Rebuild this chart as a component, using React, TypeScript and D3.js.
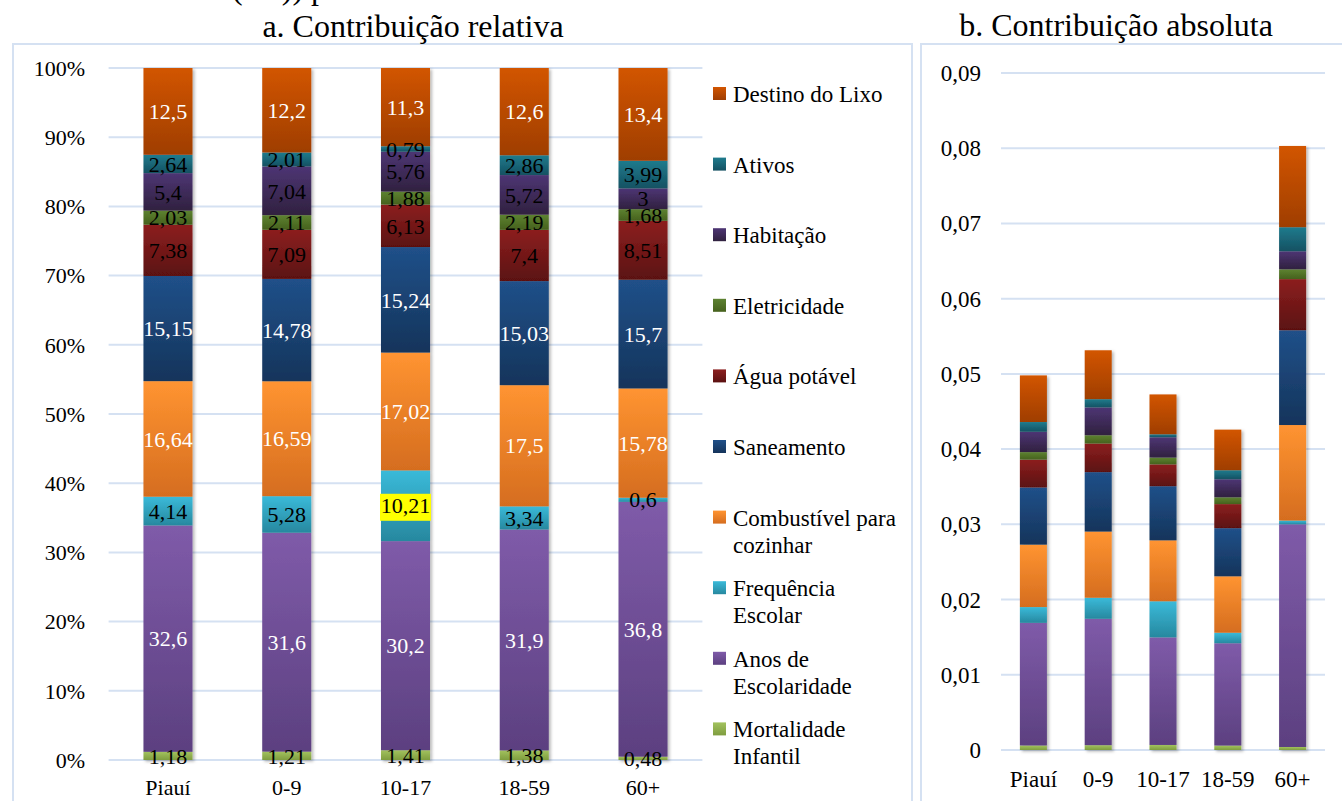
import React from "react";
import * as d3 from "d3";

// categories and series (bottom to top of each bar)
const categories = ["Piauí", "0-9", "10-17", "18-59", "60+"];
const seriesNames = [
  "Mortalidade Infantil",
  "Anos de Escolaridade",
  "Frequência Escolar",
  "Combustível para cozinhar",
  "Saneamento",
  "Água potável",
  "Eletricidade",
  "Habitação",
  "Ativos",
  "Destino do Lixo",
];

// a. relative contribution (%)
const mortalidadeRel = [1.18, 1.21, 1.41, 1.38, 0.48];
const anosRel = [32.6, 31.6, 30.2, 31.9, 36.8];
const frequenciaRel = [4.14, 5.28, 10.21, 3.34, 0.6];
const combustivelRel = [16.64, 16.59, 17.02, 17.5, 15.78];
const saneamentoRel = [15.15, 14.78, 15.24, 15.03, 15.7];
const aguaRel = [7.38, 7.09, 6.13, 7.4, 8.51];
const eletricidadeRel = [2.03, 2.11, 1.88, 2.19, 1.68];
const habitacaoRel = [5.4, 7.04, 5.76, 5.72, 3];
const ativosRel = [2.64, 2.01, 0.79, 2.86, 3.99];
const lixoRel = [12.5, 12.2, 11.3, 12.6, 13.4];

// b. absolute contribution
const mortalidadeAbs = [0.0006, 0.00064, 0.00067, 0.00059, 0.0004];
const anosAbs = [0.0163, 0.0168, 0.0143, 0.0136, 0.0296];
const frequenciaAbs = [0.0021, 0.0028, 0.0048, 0.0014, 0.0005];
const combustivelAbs = [0.0083, 0.0088, 0.0081, 0.0075, 0.0127];
const saneamentoAbs = [0.0076, 0.0079, 0.0072, 0.0064, 0.0126];
const aguaAbs = [0.0037, 0.0038, 0.0029, 0.0032, 0.0068];
const eletricidadeAbs = [0.001, 0.0011, 0.0009, 0.0009, 0.0013];
const habitacaoAbs = [0.0027, 0.0037, 0.0027, 0.0024, 0.0024];
const ativosAbs = [0.0013, 0.0011, 0.0004, 0.0012, 0.0032];
const lixoAbs = [0.0062, 0.0065, 0.0053, 0.0054, 0.0108];

const relSeries = [mortalidadeRel, anosRel, frequenciaRel, combustivelRel, saneamentoRel,
  aguaRel, eletricidadeRel, habitacaoRel, ativosRel, lixoRel];
const absSeries = [mortalidadeAbs, anosAbs, frequenciaAbs, combustivelAbs, saneamentoAbs,
  aguaAbs, eletricidadeAbs, habitacaoAbs, ativosAbs, lixoAbs];

const relTicks = [0, 0.1, 0.2, 0.3, 0.4, 0.5, 0.6, 0.7, 0.8, 0.9, 1];
const absTicks = [0, 0.01, 0.02, 0.03, 0.04, 0.05, 0.06, 0.07, 0.08, 0.09];

const legendLines = [
  ["Destino do Lixo"],
  ["Ativos"],
  ["Habitação"],
  ["Eletricidade"],
  ["Água potável"],
  ["Saneamento"],
  ["Combustível para", "cozinhar"],
  ["Frequência", "Escolar"],
  ["Anos de", "Escolaridade"],
  ["Mortalidade", "Infantil"],
];

// gradient top -> bottom per series
const colors = [
  ["#a2c25e", "#7f9d3f"],
  ["#7f5ba9", "#5c4080"],
  ["#3abad9", "#27889f"],
  ["#ff9431", "#d56d1f"],
  ["#205089", "#15345b"],
  ["#8c1f1f", "#5b1111"],
  ["#5d8231", "#46611d"],
  ["#4d3574", "#30213f"],
  ["#1f7b8d", "#155162"],
  ["#d25500", "#9f3e03"],
];
const whiteLabel = [false, true, false, true, true, false, false, false, false, true];
const highlighted = [{ series: "Frequência Escolar", category: "10-17" }];

const font = "Liberation Serif, Tinos, Times New Roman, DejaVu Serif, serif";
const gridColor = "#d5e1f2";

const fmt = (v) => String(v).replace(".", ",");

export default function App() {
  const relRows = categories.map((c, i) => {
    const r = { category: c };
    seriesNames.forEach((s, k) => (r[s] = relSeries[k][i]));
    return r;
  });
  const absRows = categories.map((c, i) => {
    const r = { category: c };
    seriesNames.forEach((s, k) => (r[s] = absSeries[k][i]));
    return r;
  });

  const relStack = d3.stack().keys(seriesNames).offset(d3.stackOffsetExpand)(relRows);
  const absStack = d3.stack().keys(seriesNames)(absRows);

  const xL = d3.scaleBand().domain(categories).range([108.6, 702.4]).paddingInner(0.587).paddingOuter(0.2935);
  const yL = d3.scaleLinear().domain([0, 1]).range([760, 68]);
  const xR = d3.scaleBand().domain(categories).range([1001, 1325]).paddingInner(0.583).paddingOuter(0.2915);
  const yR = d3.scaleLinear().domain([0, 0.09]).range([750, 73]);

  const pct = d3.format(".0%");
  const ts = { fontFamily: font };

  return (
    <svg width={1342} height={801} style={{ position: "absolute", left: 0, top: 0, background: "#fff", fontFamily: font }}>
      <defs>
        {colors.map((c, k) => (
          <linearGradient key={k} id={"g" + k} x1="0" y1="0" x2="0" y2="1">
            <stop offset="0" stopColor={c[0]} />
            <stop offset="1" stopColor={c[1]} />
          </linearGradient>
        ))}
        <filter id="shadow" x="-20%" y="-5%" width="150%" height="115%">
          <feDropShadow dx="2" dy="1.5" stdDeviation="1.8" floodColor="#000" floodOpacity="0.28" />
        </filter>
      </defs>

      {/* clipped text above the chart */}
      <text x={232} y={-1} fontSize={32} style={ts}>(H0)) p</text>

      {/* frames */}
      <rect x={13} y={44} width={899} height={800} fill="none" stroke={gridColor} strokeWidth={2} />
      <rect x={921} y={44} width={440} height={800} fill="none" stroke={gridColor} strokeWidth={2} />

      {/* titles */}
      <text x={413} y={37} textAnchor="middle" fontSize={32} style={ts}>a. Contribuição relativa</text>
      <text x={1116} y={36} textAnchor="middle" fontSize={32} style={ts}>b. Contribuição absoluta</text>

      {/* ---- a. relative ---- */}
      {relTicks.map((t) => (
        <g key={t}>
          <line x1={xL.range()[0]} x2={xL.range()[1]} y1={yL(t)} y2={yL(t)} stroke={gridColor} strokeWidth={2} />
          <text x={85} y={yL(t)} dy="0.35em" textAnchor="end" fontSize={22} style={ts}>{pct(t)}</text>
        </g>
      ))}
      {categories.map((c, i) => (
        <g key={c} filter="url(#shadow)">
          {relStack.map((s, k) => (
            <rect key={k} x={xL(c)} width={xL.bandwidth()} y={yL(s[i][1])}
              height={yL(s[i][0]) - yL(s[i][1])} fill={`url(#g${k})`} />
          ))}
        </g>
      ))}
      {categories.map((c, i) => (
        <g key={c}>
          {relStack.map((s, k) => {
            const cx = xL(c) + xL.bandwidth() / 2;
            const cy = (yL(s[i][0]) + yL(s[i][1])) / 2;
            const hi = highlighted.some((h) => h.series === s.key && h.category === c);
            return (
              <g key={k}>
                {hi && <rect x={cx - 25.5} y={cy - 12} width={51} height={27} fill="#ffff00" />}
                <text x={cx} y={cy} dy="0.35em" textAnchor="middle" fontSize={22} style={ts}
                  fill={whiteLabel[k] ? "#fff" : "#000"}>{fmt(relSeries[k][i])}</text>
              </g>
            );
          })}
        </g>
      ))}
      {categories.map((c) => (
        <text key={c} x={xL(c) + xL.bandwidth() / 2} y={795} textAnchor="middle" fontSize={22} style={ts}>{c}</text>
      ))}

      {/* legend */}
      {legendLines.map((lines, j) => {
        const k = seriesNames.length - 1 - j;
        const y0 = 94 + j * 70.6;
        return (
          <g key={j}>
            <rect x={713} y={y0 - 7} width={13} height={13} fill={`url(#g${k})`} />
            {lines.map((l, m) => (
              <text key={m} x={733} y={y0 + m * 27} dy="0.35em" fontSize={23} style={ts}>{l}</text>
            ))}
          </g>
        );
      })}

      {/* ---- b. absolute ---- */}
      {absTicks.map((t) => (
        <g key={t}>
          <line x1={xR.range()[0]} x2={xR.range()[1]} y1={yR(t)} y2={yR(t)} stroke={gridColor} strokeWidth={2} />
          <text x={981} y={yR(t)} dy="0.35em" textAnchor="end" fontSize={23} style={ts}>{t === 0 ? "0" : fmt(t)}</text>
        </g>
      ))}
      {categories.map((c, i) => (
        <g key={c} filter="url(#shadow)">
          {absStack.map((s, k) => (
            <rect key={k} x={xR(c)} width={xR.bandwidth()} y={yR(s[i][1])}
              height={yR(s[i][0]) - yR(s[i][1])} fill={`url(#g${k})`} />
          ))}
        </g>
      ))}
      {categories.map((c) => (
        <text key={c} x={xR(c) + xR.bandwidth() / 2} y={787} textAnchor="middle" fontSize={23} style={ts}>{c}</text>
      ))}
    </svg>
  );
}
